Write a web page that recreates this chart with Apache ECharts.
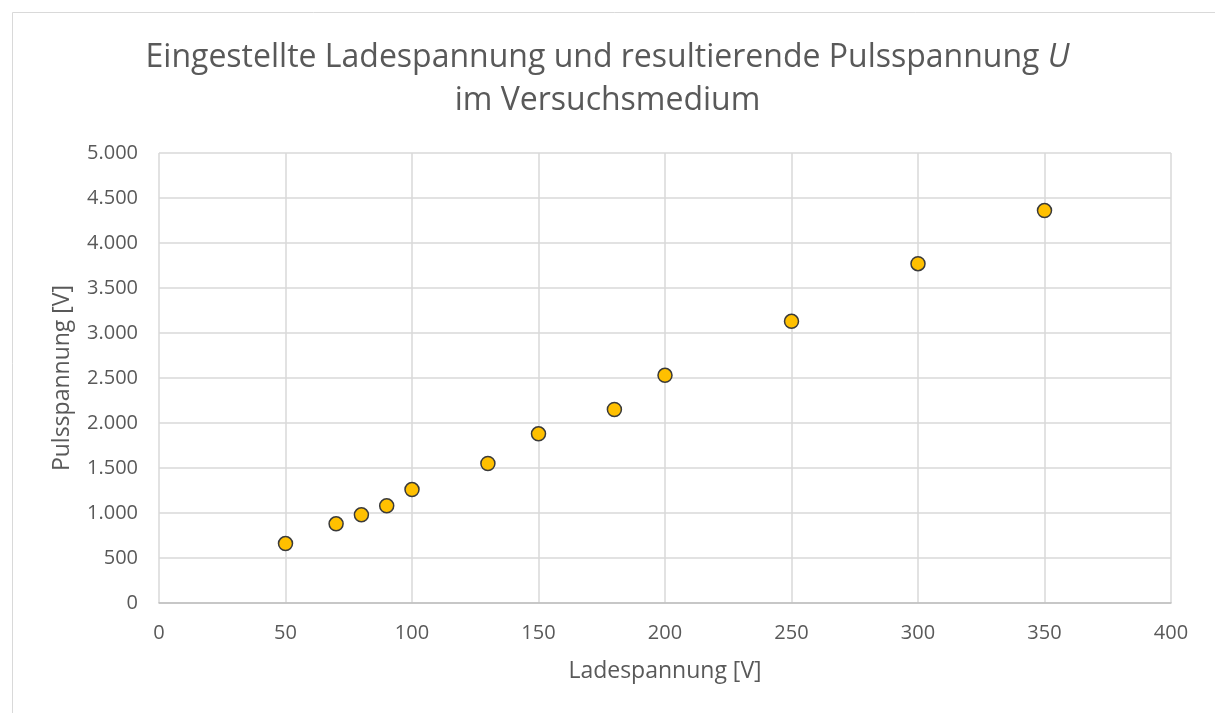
<!DOCTYPE html>
<html>
<head>
<meta charset="utf-8">
<script src="https://cdn.jsdelivr.net/npm/echarts@6/dist/echarts.min.js"></script>
<style>
html,body{margin:0;padding:0;background:#fff;}
#chart{width:1215px;height:713px;}
</style>
</head>
<body>
<div id="chart"></div>
<script>
const titleLine1 = 'Eingestellte Ladespannung und resultierende Pulsspannung ';
const titleItalic = 'U';
const titleLine2 = 'im Versuchsmedium';
const xAxisName = 'Ladespannung [V]';
const yAxisName = 'Pulsspannung [V]';
const ladespannung = [50, 70, 80, 90, 100, 130, 150, 180, 200, 250, 300, 350];
const pulsspannung = [660, 880, 980, 1080, 1260, 1550, 1880, 2150, 2530, 3130, 3770, 4360];

const fontFam = '"Open Sans", sans-serif';
const chart = echarts.init(document.getElementById('chart'));
const fmt = v => String(v).replace(/\B(?=(\d{3})+(?!\d))/g, '.');

chart.setOption({
  animation: false,
  backgroundColor: '#fff',
  title: {
    text: '{n|' + titleLine1 + '}{i|' + titleItalic + '}\n{n|' + titleLine2 + '}',
    left: 'center',
    top: 31,
    textStyle: {
      fontWeight: 'normal',
      rich: {
        n: {fontFamily: fontFam, fontSize: 32, fontWeight: 'normal', color: '#595959', lineHeight: 43},
        i: {fontFamily: fontFam, fontSize: 32, fontWeight: 'normal', color: '#595959', fontStyle: 'italic', lineHeight: 43}
      }
    }
  },
  graphic: [{
    type: 'rect', left: 10, top: 10, shape: {width: 1220, height: 720},
    style: {fill: 'none', stroke: '#d9d9d9', lineWidth: 1}, silent: true
  }],
  grid: {left: 159, right: 44, top: 153, bottom: 110},
  xAxis: {
    type: 'value', min: 0, max: 400, interval: 50,
    name: xAxisName, nameLocation: 'middle', nameGap: 57,
    nameTextStyle: {fontFamily: fontFam, fontSize: 23, color: '#595959'},
    axisLine: {show: true, lineStyle: {color: '#bfbfbf', width: 1.5}},
    axisTick: {show: false},
    axisLabel: {fontFamily: fontFam, fontSize: 20, color: '#595959', margin: 20, formatter: fmt},
    splitLine: {show: true, lineStyle: {color: '#d9d9d9', width: 1.5}}
  },
  yAxis: {
    type: 'value', min: 0, max: 5000, interval: 500,
    name: yAxisName, nameLocation: 'middle', nameGap: 85, nameRotate: 90,
    nameTextStyle: {fontFamily: fontFam, fontSize: 23, color: '#595959'},
    axisLine: {show: false},
    axisTick: {show: false},
    axisLabel: {fontFamily: fontFam, fontSize: 20, color: '#595959', margin: 21, formatter: fmt},
    splitLine: {show: true, lineStyle: {color: '#d9d9d9', width: 1.5}}
  },
  series: [{
    type: 'scatter',
    data: ladespannung.map((x, i) => [x, pulsspannung[i]]),
    symbol: 'circle',
    symbolSize: 14,
    itemStyle: {color: '#FFC000', borderColor: '#3a3a3a', borderWidth: 1.5, opacity: 1}
  }]
});
</script>
</body>
</html>
